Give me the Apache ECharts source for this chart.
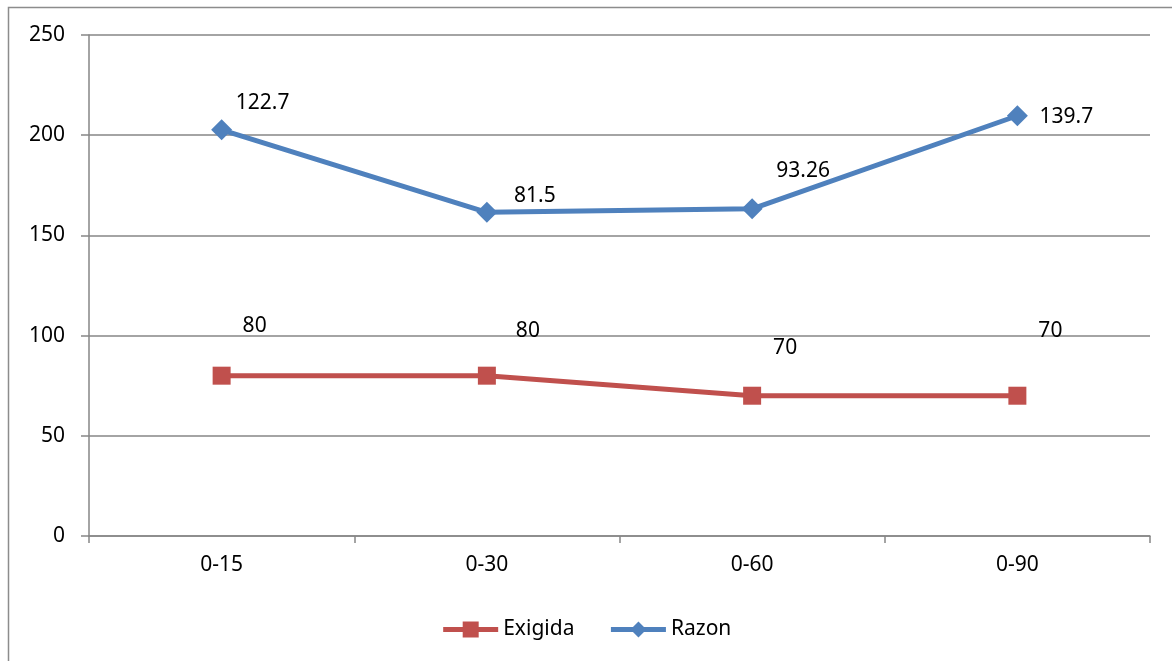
<!DOCTYPE html>
<html>
<head>
<meta charset="utf-8">
<title>Exigida / Razon</title>
<script src="https://cdn.jsdelivr.net/npm/echarts@6/dist/echarts.min.js"></script>
<style>
  html, body { margin: 0; padding: 0; background: #fff; }
  #chart { width: 1172px; height: 661px; }
</style>
</head>
<body>
<div id="chart"></div>
<script>
// categories (profundidad)
const categories = ['0-15', '0-30', '0-60', '0-90'];
// series values (stacked lines, labels show own value)
const exigidaValues = [80, 80, 70, 70];
const razonValues = [122.7, 81.5, 93.26, 139.7];
// y axis ticks
const yMin = 0;
const yMax = 250;
const yStep = 50;

const RED = '#C0504D';
const BLUE = '#4F81BD';
const FONT = 'Noto Sans';
const FS = 21;

// label offsets, placed roughly as in the original
const exigidaLabelOffsets = [[33, -50], [41, -45], [33, -48], [33, -65]];
const razonLabelOffsets = [[41, -27], [48, -16], [51, -38], [49, 1]];

const chart = echarts.init(document.getElementById('chart'));

const option = {
  animation: false,
  textStyle: { fontFamily: FONT },
  graphic: [{
    type: 'rect',
    left: 6,
    top: 5,
    shape: { width: 1300, height: 800 },
    style: { fill: 'none', stroke: '#8c8c8c', lineWidth: 1.5 },
    silent: true
  }],
  grid: { left: 89, right: 22, top: 35, bottom: 125 },
  legend: {
    left: 'center',
    top: 614,
    itemWidth: 55,
    itemHeight: 20,
    itemGap: 34,
    lineStyle: { width: 5 },
    textStyle: { fontSize: FS, color: '#000', fontFamily: FONT },
    data: ['Exigida', 'Razon']
  },
  xAxis: {
    type: 'category',
    data: categories,
    boundaryGap: true,
    axisLine: { lineStyle: { color: '#868686', width: 1.5 } },
    axisTick: { show: true, interval: 0, length: 7, lineStyle: { color: '#868686', width: 1.5 } },
    axisLabel: { color: '#000', fontSize: FS, margin: 19, fontFamily: FONT }
  },
  yAxis: {
    type: 'value',
    min: yMin,
    max: yMax,
    interval: yStep,
    axisLine: { show: true, lineStyle: { color: '#868686', width: 1.5 } },
    axisTick: { show: true, length: 8, lineStyle: { color: '#868686', width: 1.5 } },
    axisLabel: { color: '#000', fontSize: FS, margin: 24, fontFamily: FONT },
    splitLine: { lineStyle: { color: '#868686', width: 1.5 } }
  },
  series: [
    {
      name: 'Exigida',
      type: 'line',
      stack: 'total',
      symbol: 'rect',
      symbolSize: 18,
      color: RED,
      lineStyle: { width: 5, color: RED },
      itemStyle: { color: RED },
      label: { show: true, position: 'inside', color: '#000', fontSize: FS, fontFamily: FONT },
      data: exigidaValues.map((v, i) => ({ value: v, label: { offset: exigidaLabelOffsets[i] } }))
    },
    {
      name: 'Razon',
      type: 'line',
      stack: 'total',
      symbol: 'diamond',
      symbolSize: 21,
      color: BLUE,
      lineStyle: { width: 5, color: BLUE },
      itemStyle: { color: BLUE },
      label: { show: true, position: 'inside', color: '#000', fontSize: FS, fontFamily: FONT },
      data: razonValues.map((v, i) => ({ value: v, label: { offset: razonLabelOffsets[i] } }))
    }
  ]
};

chart.setOption(option);
</script>
</body>
</html>
